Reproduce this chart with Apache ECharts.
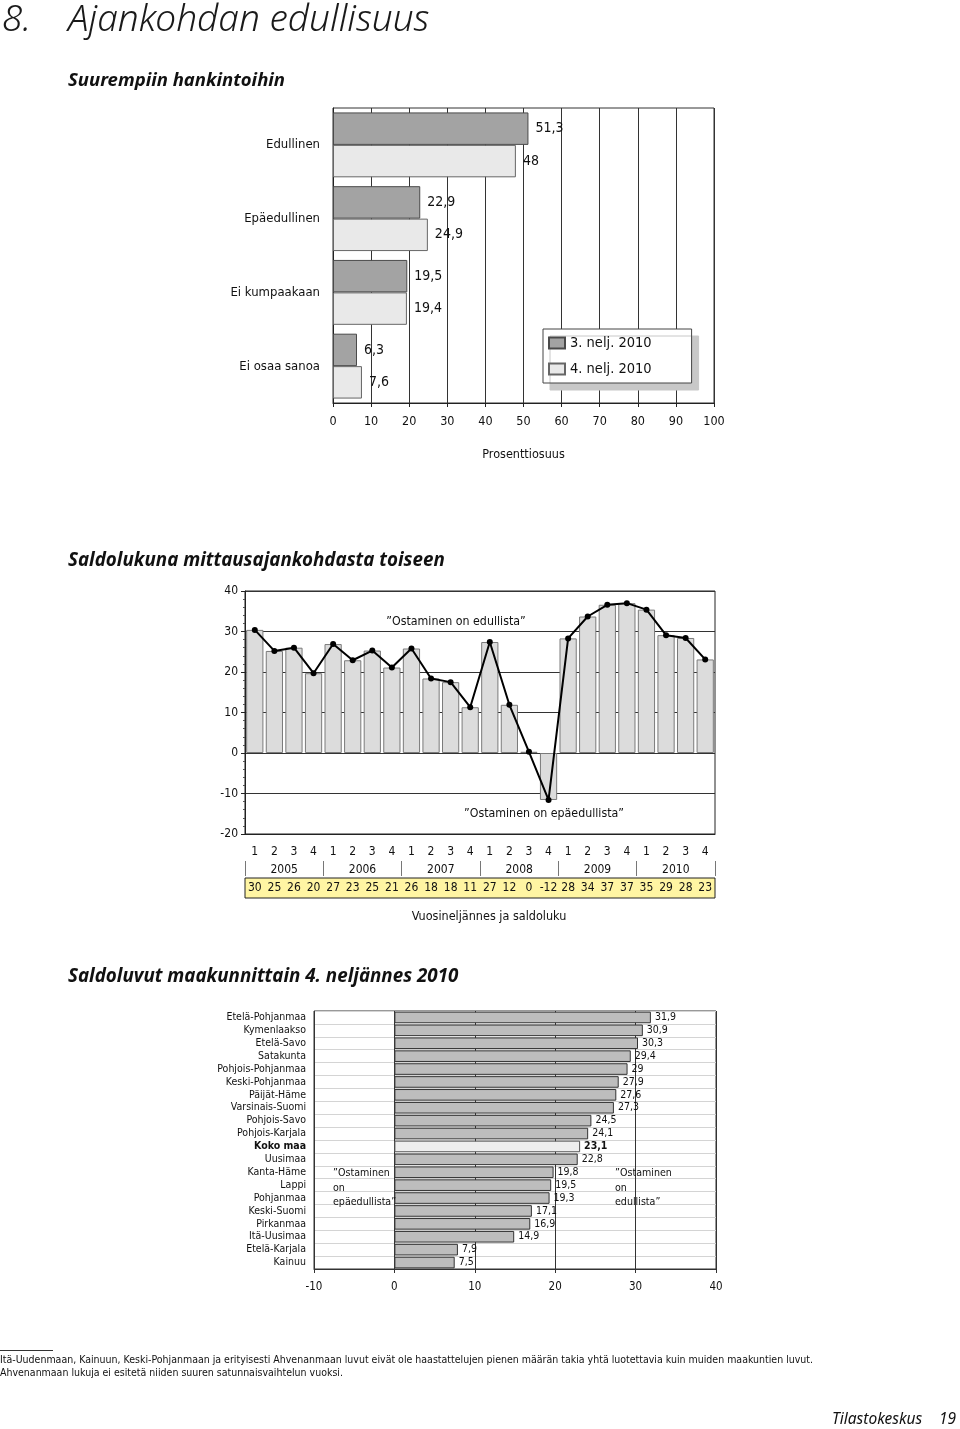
<!DOCTYPE html>
<html>
<head>
<meta charset="utf-8">
<script src="https://cdn.jsdelivr.net/npm/echarts@6/dist/echarts.min.js"></script>
<style>html,body{margin:0;padding:0;background:#fff}#c{width:960px;height:1429px}</style>
</head>
<body>
<div id="c"></div>
<script>
// ---- data ----
const topCategories = ['Edullinen', 'Epäedullinen', 'Ei kumpaakaan', 'Ei osaa sanoa'];
const seriesNames = ['3. nelj. 2010', '4. nelj. 2010'];
const q3Values = [51.3, 22.9, 19.5, 6.3];
const q4Values = [48, 24.9, 19.4, 7.6];

const quarterLabels = ['1','2','3','4','1','2','3','4','1','2','3','4','1','2','3','4','1','2','3','4','1','2','3','4'];
const yearLabels = ['2005', '2006', '2007', '2008', '2009', '2010'];
const saldoValues = [30.4, 25.2, 26, 19.7, 26.9, 22.9, 25.3, 21.1, 25.8, 18.4, 17.5, 11.3, 27.4, 11.9, 0.3, -11.6, 28.3, 33.7, 36.6, 37.0, 35.4, 29.1, 28.4, 23.1];
const saldoLabels = ['30','25','26','20','27','23','25','21','26','18','18','11','27','12','0','-12','28','34','37','37','35','29','28','23'];

const regions = ['Etelä-Pohjanmaa','Kymenlaakso','Etelä-Savo','Satakunta','Pohjois-Pohjanmaa','Keski-Pohjanmaa','Päijät-Häme','Varsinais-Suomi','Pohjois-Savo','Pohjois-Karjala','Koko maa','Uusimaa','Kanta-Häme','Lappi','Pohjanmaa','Keski-Suomi','Pirkanmaa','Itä-Uusimaa','Etelä-Karjala','Kainuu'];
const regionValues = [31.9, 30.9, 30.3, 29.4, 29, 27.9, 27.6, 27.3, 24.5, 24.1, 23.1, 22.8, 19.8, 19.5, 19.3, 17.1, 16.9, 14.9, 7.9, 7.5];
const totalRegion = 'Koko maa';

// ---- styling ----
const NARROW = "'Liberation Sans Narrow','DejaVu Sans Condensed','Arial Narrow',sans-serif";
const HUM = "'Noto Sans','Open Sans',sans-serif";
const fmt = v => String(v).replace('.', ',');

const chart = echarts.init(document.getElementById('c'), null, {renderer: 'canvas'});

function txt(x, y, text, o) {
  o = o || {};
  return {
    type: 'text', x: x, y: y, silent: true, z: 100,
    style: {
      text: text,
      fontSize: o.size || 13,
      fontFamily: o.family || NARROW,
      fontStyle: o.style || 'normal',
      fontWeight: o.weight || 'normal',
      fill: o.color || '#111',
      align: o.align || 'left',
      verticalAlign: 'middle',
      lineHeight: o.lh
    }
  };
}

const option = {
  animation: false,
  backgroundColor: '#fff',
  textStyle: {fontFamily: NARROW, color: '#111'},
  grid: [
    {left: 333, top: 108, width: 381, height: 295, show: true, borderColor: '#333', borderWidth: 1},
    {left: 245, top: 591, width: 470, height: 243, show: true, borderColor: '#222', borderWidth: 1},
    {left: 245, top: 878, width: 470, height: 20, show: true, backgroundColor: '#fff5a3', borderColor: '#222', borderWidth: 1},
    {left: 314, top: 1011, width: 402, height: 258, show: true, borderColor: '#333', borderWidth: 1}
  ],
  legend: {
    data: seriesNames, left: 543, top: 329, orient: 'vertical', icon: 'rect',
    backgroundColor: '#fff', borderColor: '#444', borderWidth: 1,
    padding: [5, 40, 5, 5], itemGap: 8, itemWidth: 16, itemHeight: 11,
    textStyle: {fontSize: 14.5, fontFamily: NARROW, color: '#111', lineHeight: 18},
    shadowColor: '#c8c8c8', shadowOffsetX: 7, shadowOffsetY: 7, shadowBlur: 0
  },
  xAxis: [
    {gridIndex: 0, type: 'value', min: 0, max: 100, interval: 10,
     axisLine: {show: true, lineStyle: {color: '#222'}},
     axisTick: {show: true, length: 4, lineStyle: {color: '#222'}},
     axisLabel: {fontSize: 12.5, color: '#111', margin: 12, fontFamily: NARROW},
     splitLine: {show: true, lineStyle: {color: '#333', width: 1}},
     name: 'Prosenttiosuus', nameLocation: 'middle', nameGap: 45,
     nameTextStyle: {fontSize: 12.5, color: '#111', fontFamily: NARROW}},
    {gridIndex: 1, type: 'category', data: quarterLabels, position: 'bottom',
     axisLine: {show: true, onZero: false, lineStyle: {color: '#222'}},
     axisTick: {show: false},
     axisLabel: {fontSize: 12, margin: 12, interval: 0, color: '#111', fontFamily: NARROW}},
    {gridIndex: 1, type: 'category', data: yearLabels, position: 'bottom', offset: 27,
     axisLine: {show: false, onZero: false},
     axisTick: {show: true, length: 15, lineStyle: {color: '#777'}},
     axisLabel: {fontSize: 12, margin: 3, interval: 0, color: '#111', fontFamily: NARROW}},
    {gridIndex: 2, type: 'category', data: saldoLabels, position: 'top',
     axisLine: {show: false, onZero: false}, axisTick: {show: false},
     axisLabel: {inside: true, margin: 4, fontSize: 12, interval: 0, color: '#111', fontFamily: NARROW}},
    {gridIndex: 3, type: 'value', min: -10, max: 40, interval: 10,
     axisLine: {show: true, onZero: false, lineStyle: {color: '#333'}},
     axisTick: {show: true, length: 4, lineStyle: {color: '#333'}},
     axisLabel: {fontSize: 11.5, margin: 12, color: '#111', fontFamily: NARROW},
     splitLine: {show: true, lineStyle: {color: '#333', width: 1}}}
  ],
  yAxis: [
    {gridIndex: 0, type: 'category', data: topCategories, inverse: true,
     axisLine: {show: true, onZero: false, lineStyle: {color: '#222'}}, axisTick: {show: false},
     axisLabel: {fontSize: 13, margin: 13, color: '#111', fontFamily: NARROW}},
    {gridIndex: 1, type: 'value', min: -20, max: 40, interval: 10,
     axisLine: {show: true, onZero: false, lineStyle: {color: '#222'}},
     axisTick: {show: true, length: 4, lineStyle: {color: '#222'}},
     minorTick: {show: true, splitNumber: 5, length: 2, lineStyle: {color: '#555'}},
     axisLabel: {fontSize: 12, margin: 7, color: '#111', fontFamily: NARROW},
     splitLine: {show: true, lineStyle: {color: '#333', width: 1}}},
    {gridIndex: 2, type: 'value', show: false},
    {gridIndex: 3, type: 'category', data: regions, inverse: true,
     axisLine: {show: false, onZero: false}, axisTick: {show: false},
     splitLine: {show: true, lineStyle: {color: '#d4d4d4', width: 1}},
     axisLabel: {fontSize: 10.5, margin: 8, interval: 0, color: '#111', fontFamily: NARROW,
       formatter: v => v === totalRegion ? '{b|' + v + '}' : v,
       rich: {b: {fontWeight: 'bold', fontSize: 10.5, fontFamily: NARROW, color: '#111'}}}}
  ],
  series: [
    {name: seriesNames[0], type: 'bar', xAxisIndex: 0, yAxisIndex: 0, data: q3Values,
     barGap: '0%', barCategoryGap: '12%',
     itemStyle: {color: '#a3a3a3', borderColor: '#4a4a4a', borderWidth: 1},
     label: {show: true, position: 'right', distance: 7, fontSize: 14, color: '#111', fontFamily: NARROW,
       formatter: p => fmt(p.value)}},
    {name: seriesNames[1], type: 'bar', xAxisIndex: 0, yAxisIndex: 0, data: q4Values,
     barGap: '0%', barCategoryGap: '12%',
     itemStyle: {color: '#e9e9e9', borderColor: '#666', borderWidth: 1},
     label: {show: true, position: 'right', distance: 7, fontSize: 14, color: '#111', fontFamily: NARROW,
       formatter: p => fmt(p.value)}},
    {name: 'saldo-bar', type: 'bar', xAxisIndex: 1, yAxisIndex: 1, data: saldoValues,
     barCategoryGap: '12%', silent: true,
     itemStyle: {color: '#dcdcdc', borderColor: '#7a7a7a', borderWidth: 1}},
    {name: 'saldo-line', type: 'line', xAxisIndex: 1, yAxisIndex: 1, data: saldoValues,
     symbol: 'circle', symbolSize: 6, silent: true,
     lineStyle: {color: '#000', width: 2}, itemStyle: {color: '#000'}},
    {name: 'alue', type: 'bar', xAxisIndex: 4, yAxisIndex: 3,
     data: regionValues.map((v, i) => regions[i] === totalRegion
       ? {value: v, itemStyle: {color: '#eeeeee', borderColor: '#555'}} : v),
     barCategoryGap: '10%', silent: true,
     itemStyle: {color: '#bdbdbd', borderColor: '#333', borderWidth: 1},
     label: {show: true, position: 'right', distance: 4, fontSize: 10.5, color: '#111', fontFamily: NARROW,
       formatter: p => regions[p.dataIndex] === totalRegion ? '{b|' + fmt(p.value) + '}' : fmt(p.value),
       rich: {b: {fontWeight: 'bold', fontSize: 10.5, fontFamily: NARROW, color: '#111'}}}}
  ],
  graphic: [
    txt(2, 20, '8.', {size: 37, family: HUM, style: 'italic', weight: 300, color: '#1a1a1a'}),
    txt(68, 20, 'Ajankohdan edullisuus', {size: 37, family: HUM, style: 'italic', weight: 300, color: '#1a1a1a'}),
    txt(68, 81, 'Suurempiin hankintoihin', {size: 18.5, family: HUM, style: 'italic', weight: 'bold'}),
    txt(68, 561, 'Saldolukuna mittausajankohdasta toiseen', {size: 18.8, family: HUM, style: 'italic', weight: 'bold'}),
    txt(456, 622, '”Ostaminen on edullista”', {size: 12.3, align: 'center'}),
    txt(544, 814, '”Ostaminen on epäedullista”', {size: 12.3, align: 'center'}),
    txt(489, 917, 'Vuosineljännes ja saldoluku', {size: 12.5, align: 'center'}),
    txt(68, 977, 'Saldoluvut maakunnittain 4. neljännes 2010', {size: 18.8, family: HUM, style: 'italic', weight: 'bold'}),
    txt(333, 1188, '”Ostaminen\non\nepäedullista”', {size: 10.6, lh: 14.5}),
    txt(615, 1188, '”Ostaminen\non\nedullista”', {size: 10.6, lh: 14.5}),
    {type: 'line', silent: true, shape: {x1: 0, y1: 1350.5, x2: 53, y2: 1350.5}, style: {stroke: '#333', lineWidth: 1}},
    txt(0, 1360, 'Itä-Uudenmaan, Kainuun, Keski-Pohjanmaan ja erityisesti Ahvenanmaan luvut eivät ole haastattelujen pienen määrän takia yhtä luotettavia kuin muiden maakuntien luvut.', {size: 10.5}),
    txt(0, 1373, 'Ahvenanmaan lukuja ei esitetä niiden suuren satunnaisvaihtelun vuoksi.', {size: 10.5}),
    txt(832, 1420, 'Tilastokeskus', {size: 15.5, family: HUM, style: 'italic'}),
    txt(939, 1420, '19', {size: 15.5, family: HUM, style: 'italic'})
  ]
};
chart.setOption(option);
</script>
</body>
</html>
